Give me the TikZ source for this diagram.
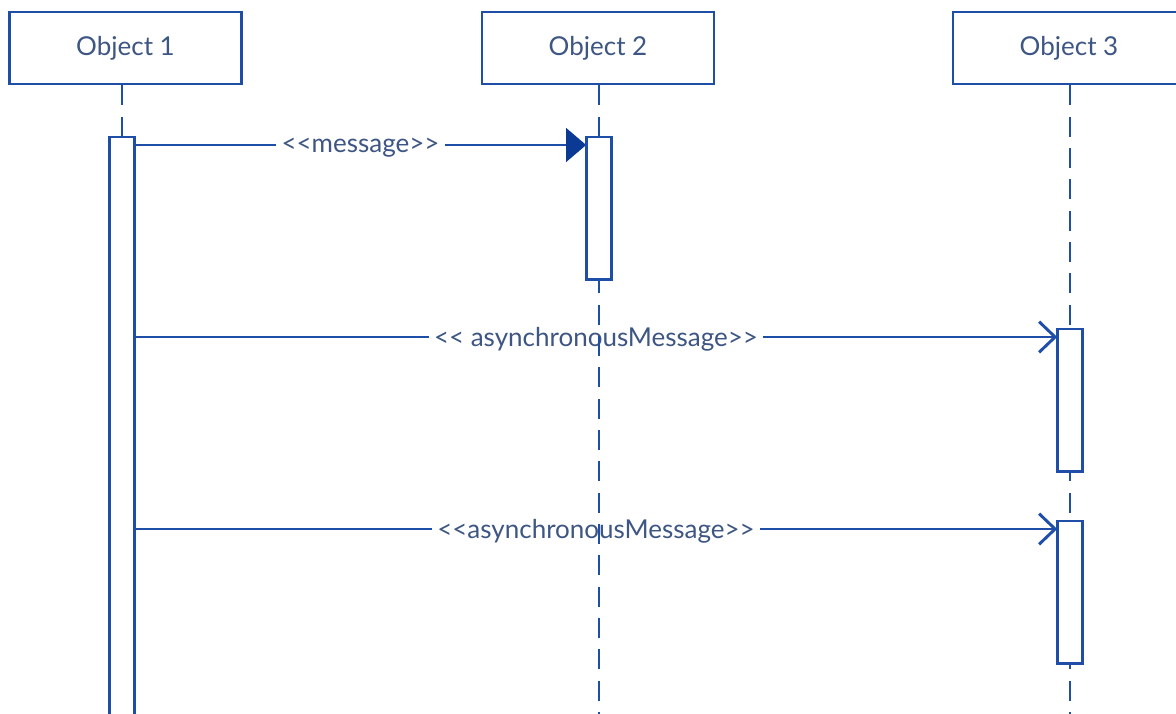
\documentclass[tikz,border=0pt]{standalone}
\usepackage{fontspec}
\setmainfont{Lato}[Ligatures=TeXOff]
\usepackage{tikz}
\usetikzlibrary{positioning, calc, arrows.meta}
\definecolor{umlLine}{HTML}{1E4EA8}
\definecolor{umlHead}{HTML}{0B3A95}
\definecolor{umlText}{HTML}{3E5683}
\tikzstyle{object}=[draw=umlLine, line width=2.2pt, fill=white, minimum width=174pt, minimum height=54pt, text=umlText, font=\fontsize{19.5}{23}\selectfont]
\tikzstyle{activation}=[draw=umlLine, line width=2.2pt, fill=white, minimum width=17pt, anchor=north, inner sep=0pt]
\tikzstyle{lifeline}=[draw=umlLine, line width=2.2pt, dash pattern=on 15pt off 8.5pt]
\tikzstyle{syncMsg}=[draw=umlLine, line width=2.2pt, -{Triangle[length=15pt, width=25pt, color=umlHead]}]
\tikzstyle{asyncMsg}=[draw=umlLine, line width=2.2pt, -{Straight Barb[length=12pt, width=23pt, line width=2.2pt]}]
\tikzstyle{msgLabel}=[fill=white, text=umlText, inner xsep=4pt, inner ysep=1pt, yshift=-2pt, font=\fontsize{19.5}{23}\selectfont]

\begin{document}
\begin{tikzpicture}[x=0.75pt, y=-0.75pt]
      \useasboundingbox (0,0) rectangle (1176,713);
      \coordinate (bottom) at (0,720);

      % objects
      \node[object] (obj1) at (125.5,48) {Object 1};
      \node[object] (obj2) at (598,48) {Object 2};
      \node[object] (obj3) at (1069,48) {Object 3};

      % activation boxes
      \node[activation, minimum height=450pt] (act1) at (122,137) {};
      \node[activation, minimum height=105pt] (act2) at (599,137) {};
      \node[activation, minimum height=105pt] (act3a) at (1070,329) {};
      \node[activation, minimum height=105pt] (act3b) at (1070,521) {};

      \coordinate (m1) at ([yshift=-6pt]act2.north west);
      \coordinate (m2) at ([yshift=-6pt]act3a.north west);
      \coordinate (m3) at ([yshift=-6pt]act3b.north west);

      % messages
      \draw[syncMsg] (act1.east |- m1) -- node[msgLabel] {<<message>>} (m1);
      \draw[asyncMsg] (act1.east |- m2) -- node[msgLabel] {<< asynchronousMessage>>} (m2);
      \draw[asyncMsg] (act1.east |- m3) -- node[msgLabel] {<<asynchronousMessage>>} (m3);

      % lifelines
      \draw[lifeline] (obj1.south -| act1) -- (act1.north);
      \draw[lifeline] (obj2.south -| act2) -- (act2 |- bottom);
      \draw[lifeline] (obj3.south -| act3a) -- (act3a |- bottom);

      % activation boxes again on top of the lifelines
      \foreach \a in {act1, act2, act3a, act3b}{
        \draw[umlLine, line width=2.2pt, fill=white] (\a.north west) rectangle (\a.south east);
      }
\end{tikzpicture}
\end{document}
